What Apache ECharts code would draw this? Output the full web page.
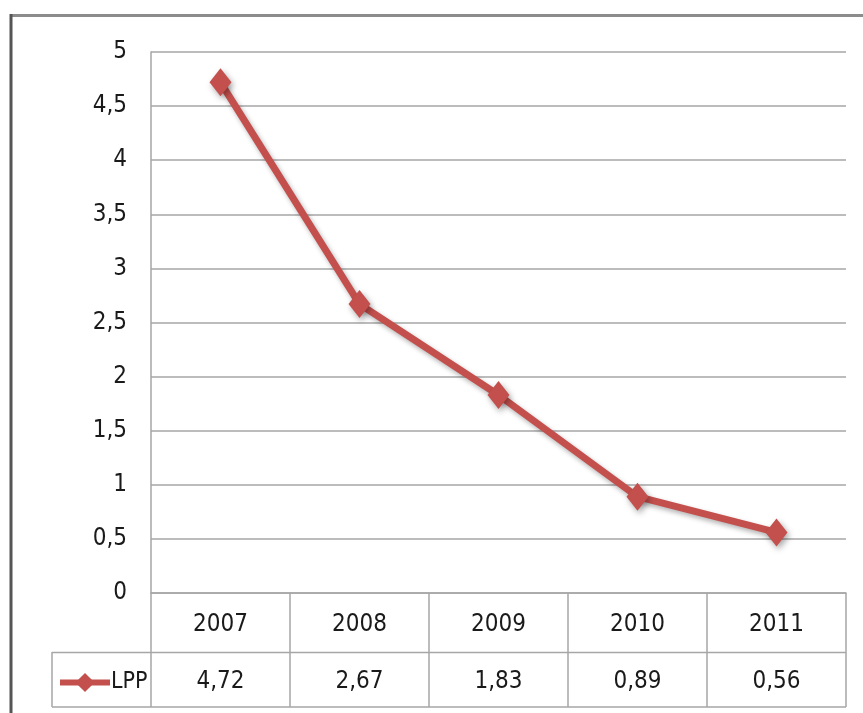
<!DOCTYPE html>
<html>
<head>
<meta charset="utf-8">
<script src="https://cdn.jsdelivr.net/npm/echarts@6/dist/echarts.min.js"></script>
<style>
  html, body { margin: 0; padding: 0; background: #fff; }
  #chart { width: 863px; height: 713px; }
</style>
</head>
<body>
<div id="chart"></div>
<script>
// LPP values per year, shown both as a line and in the data table below
const years = ['2007', '2008', '2009', '2010', '2011'];
const lppValues = [4.72, 2.67, 1.83, 0.89, 0.56];
const seriesName = 'LPP';

const FONT = "'Liberation Sans Narrow', 'DejaVu Sans Condensed', sans-serif";
const GRID_COLOR = '#a6a6a6';
const LINE_COLOR = '#c4504d';

const comma = v => String(v).replace('.', ',');

const chart = echarts.init(document.getElementById('chart'), null, { renderer: 'canvas' });

chart.setOption({
  backgroundColor: '#ffffff',
  animation: false,
  grid: { left: 151, top: 52, right: 17, bottom: 120, containLabel: false },
  legend: {
    data: [seriesName],
    left: 52,
    top: 666,
    itemWidth: 50,
    itemHeight: 24,
    itemGap: 4,
    lineStyle: { width: 6 },
    itemStyle: { shadowBlur: 0 },
    textStyle: { fontFamily: FONT, fontSize: 23, color: '#1a1a1a', padding: [0, 0, 0, -4] }
  },
  xAxis: [
    {
      type: 'category',
      data: years,
      boundaryGap: true,
      axisLine: { show: true, lineStyle: { color: GRID_COLOR, width: 1.5 } },
      axisTick: { show: true, length: 114, lineStyle: { color: GRID_COLOR, width: 1.5 } },
      axisLabel: { margin: 20, fontFamily: FONT, fontSize: 24, color: '#1a1a1a' },
      splitLine: { show: false }
    },
    {
      type: 'category',
      data: lppValues.map(v => comma(v.toFixed(2))),
      position: 'bottom',
      offset: 59,
      boundaryGap: true,
      axisLine: { show: false },
      axisTick: { show: false },
      axisLabel: { margin: 18, fontFamily: FONT, fontSize: 24, color: '#1a1a1a' },
      splitLine: { show: false }
    }
  ],
  yAxis: {
    type: 'value',
    min: 0,
    max: 5,
    interval: 0.5,
    axisLine: { show: true, lineStyle: { color: GRID_COLOR, width: 1.5 } },
    axisTick: { show: false },
    axisLabel: {
      margin: 24,
      fontFamily: FONT,
      fontSize: 24,
      color: '#1a1a1a',
      formatter: v => comma(v)
    },
    splitLine: { show: true, lineStyle: { color: GRID_COLOR, width: 1.5 } }
  },
  series: [
    {
      name: seriesName,
      type: 'line',
      xAxisIndex: 0,
      data: lppValues,
      symbol: 'diamond',
      symbolSize: [22, 28],
      lineStyle: {
        color: LINE_COLOR,
        width: 7,
        shadowColor: 'rgba(0,0,0,0.3)',
        shadowBlur: 5,
        shadowOffsetX: 2,
        shadowOffsetY: 3
      },
      itemStyle: {
        color: LINE_COLOR,
        shadowColor: 'rgba(0,0,0,0.35)',
        shadowBlur: 6,
        shadowOffsetX: 2,
        shadowOffsetY: 3
      }
    }
  ],
  graphic: [
    // outer frame: top and left edges
    { type: 'line', shape: { x1: 10, y1: 15.5, x2: 863, y2: 15.5 }, style: { stroke: '#8c8c8c', lineWidth: 3 } },
    { type: 'line', shape: { x1: 11, y1: 14, x2: 11, y2: 713 }, style: { stroke: '#555555', lineWidth: 3 } },
    // data table rules
    { type: 'line', shape: { x1: 52, y1: 652.5, x2: 846, y2: 652.5 }, style: { stroke: GRID_COLOR, lineWidth: 1.5 } },
    { type: 'line', shape: { x1: 52, y1: 707, x2: 846, y2: 707 }, style: { stroke: GRID_COLOR, lineWidth: 1.5 } },
    { type: 'line', shape: { x1: 52, y1: 652, x2: 52, y2: 707 }, style: { stroke: GRID_COLOR, lineWidth: 1.5 } }
  ]
});
</script>
</body>
</html>
